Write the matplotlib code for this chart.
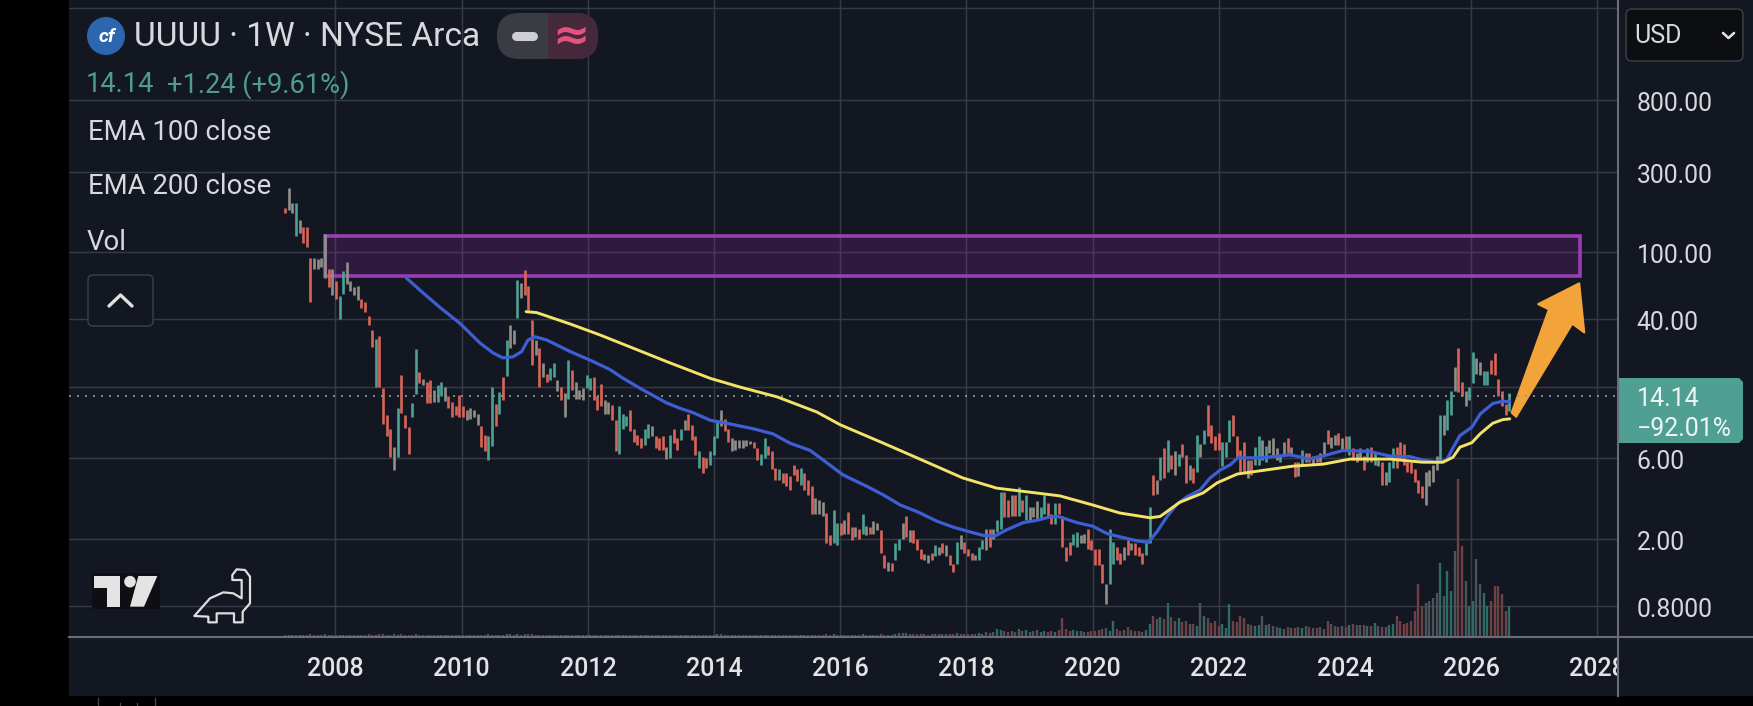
import numpy as np
import matplotlib
matplotlib.use("Agg")
import matplotlib.pyplot as plt
from matplotlib.patches import Rectangle, FancyBboxPatch, Polygon, Circle
from matplotlib.lines import Line2D
from matplotlib.ticker import NullLocator
from matplotlib.transforms import Bbox, TransformedBbox, ScaledTranslation

plt.rcParams['font.family'] = ['Roboto', 'DejaVu Sans']

# ---------- data ----------
first_bar_year = 2007.20
last_bar_year = 2026.60

bar_high = [
 183,240,195,197,155,141,141,92,92,91,
 92,128,80,80,68,55,78,88,68,62,
 63,53,51,42,34.6,30.5,32,15.6,10.8,9,
 7,11.9,18.7,10.8,9.2,12.8,26.8,19.6,17.8,17,
 17.5,15.3,16.4,17,15.9,14,13,12.2,14.3,12.2,
 11.6,11.9,11.6,11,9.4,8.3,8.1,15.9,12.7,14.8,
 18.2,30.2,37,34.6,68.5,66,79,63,39.7,30.2,
 27,22,19,20.5,22,17.5,16,14.6,23,20,
 17,15.3,15.6,18.7,18,18.2,14,16.5,13.3,12.9,
 12.5,10.1,12.2,11,10.7,11.6,9,8.3,7.9,9,
 9.6,9.3,8.1,7.9,8.1,7,8.3,9,7.9,9,
 10.1,11,9.5,8.1,6.6,6.1,6,6.6,8.1,10.1,
 11.7,10.3,9,7.9,7.7,7.7,7.7,7.7,7.6,7.5,
 6.9,6.4,7.9,7.1,6.6,5.3,5.2,4.9,4.9,4.7,
 5.5,5.2,5.3,4.9,4.5,4.1,3.5,3.4,3.3,2.85,
 2.1,2.95,2.5,2.5,2.6,2.9,2.35,2.35,2.3,2.8,
 2.4,2.35,2.55,2.5,2.25,1.6,1.47,1.45,1.9,2,
 2.5,2.75,2.25,2.25,2,1.75,1.62,1.6,1.65,1.85,
 1.8,1.9,1.85,1.6,1.43,1.93,2.1,1.93,1.75,1.65,
 1.6,1.8,1.97,2.3,2.3,2.3,2.6,3.8,3.8,3.4,
 3.65,3.65,4.05,3.4,3.65,3.1,3.1,3.35,3.1,3.65,
 3.25,2.8,3.25,3.25,2.75,1.8,1.93,2.15,2.2,2.1,
 2.15,2.3,1.97,1.75,1.75,1.43,1.08,2.3,1.93,1.8,
 1.65,1.8,1.97,1.9,1.9,1.8,1.65,1.97,3.1,4.8,
 4.47,6.15,6.9,7.7,6.3,6.6,6.4,7.3,6.3,5.5,
 5.3,8.3,7.3,8.85,12.5,9.5,8.2,8.5,7.5,7.5,
 10.1,10.8,8.2,6.7,7.5,5.85,5.87,7,8.1,7.7,
 7.1,7.7,7.9,6.9,6.3,7.5,7.9,7,5.7,5.7,
 6.7,6.5,6.5,6.2,6.3,6.5,7.5,8.9,8,8.3,
 8.5,7.9,8.1,8.2,6.9,6.5,6.9,6.2,6.9,7,
 6.5,5.9,5.7,5,5.7,6.9,7,7.5,7.3,5.7,
 5.7,5.2,4.47,4.1,5,5.1,5.5,6.2,10.8,10.8,
 13.3,15,21,27,17,15,16,25.6,23.6,22.4,
 19.7,19.7,23,25.2,17.8,15,12.6,14.6,
]
bar_low = [
 170,178,172,125,130,113,108,51,80,80,
 82,70,62,56,53,40,57,65,59,56,
 52,47,44,37,27.5,16,16,9.6,8.2,6.1,
 5.1,6.1,11.2,9.1,6.4,10.6,14.5,16.8,16.3,12.8,
 12.8,12.9,13,14.1,13.2,11.9,10.5,10.8,10.5,10.6,
 10.1,10.3,10.5,9.5,7,6.6,5.9,7.1,9.4,11,
 13.3,18.6,27,28.6,40.7,53.5,56,45.5,21.5,24.7,
 16,18.2,17.1,17.5,18.2,15,13.3,10.5,13.6,15.3,
 13.6,13.6,13.3,15.6,15.3,13.3,11.6,12.3,11,11,
 10.1,6.6,6.4,9,9.3,8.7,7.5,7.2,6.9,7.2,
 7.9,8.1,6.9,6.7,6.7,5.95,6,7.4,6.7,7.7,
 8.85,8.85,7.7,6.3,5.3,4.9,5.3,5.5,6.3,7.9,
 9.3,8.7,7.5,6.6,6.7,6.9,6.9,7.1,7.3,6.9,
 5.9,5.5,6,6.3,5.2,4.5,4.5,4.3,4.1,3.9,
 4.8,4.4,4.2,3.9,3.65,2.8,2.8,2.8,2.75,1.9,
 1.85,1.88,1.83,2.1,2.15,2.15,1.97,2.05,2,2.15,
 2.1,2.15,2.15,2.25,1.65,1.35,1.3,1.3,1.5,1.72,
 2,2.05,1.93,1.9,1.72,1.53,1.5,1.45,1.5,1.58,
 1.6,1.65,1.58,1.4,1.28,1.43,1.75,1.65,1.58,1.5,
 1.5,1.5,1.75,1.72,1.8,2,2.2,2.3,2.7,2.7,
 2.75,2.75,2.75,2.9,2.6,2.55,2.7,2.6,2.65,2.8,
 2.65,2.45,2.45,2.8,1.8,1.49,1.6,1.85,1.8,1.9,
 1.9,1.75,1.72,1.4,1.4,1.1,.82,1.08,1.43,1.5,
 1.43,1.5,1.6,1.72,1.6,1.58,1.43,1.6,1.9,3.65,
 3.7,4.47,4.6,5,5.2,4.8,5.4,6.1,4.3,4.47,
 4.3,5,6.1,7.3,8.2,7.4,6.7,6.7,5.4,6.1,
 7.5,8.2,6.1,5,5,4.6,4.8,5.5,5.5,5.9,
 5.7,6.5,6.2,5.9,5.7,6.2,6.5,6.2,4.65,4.75,
 5.4,5.7,5.7,5.6,5.7,5.7,6.2,7.3,6.9,7.2,
 7.2,6.7,6.7,6.3,5.87,5.7,5.87,5.1,5.7,5.7,
 5.5,5.4,4.2,4.2,4.35,5.3,5.3,5.95,5.5,5,
 4.9,4.35,3.75,3.5,3.2,4.1,4.35,5.1,5.7,8.3,
 8.85,10.8,15,14.8,14,12.3,13.3,16.9,19,18.7,
 16.4,16.4,19,18.8,14,12.3,10.8,11.4,
]
bar_dir = (
 "rggtgrrrgg" "ggrgrttggg" "grrrrtrrrr" "gtrrrttrgr" "rgttgrrrrr"
 "ggggrrttrt" "rtggtgrrrg" "rgrttgrgtr" "gggttrrrgg" "rrtttrrrrt"
 "tgrrrgtrrt" "grrrtrrttt" "grrggggggr" "rttrrrtrrr" "rrtrrrgggr"
 "rttrgrrgrt" "grggrrgrtt" "grgrrrggrt" "grgrrtgrrr" "gttgrgttrr"
 "grtrtgggtt" "rrtrrrrttg" "grrrrrgttr" "rgrgrrrttr" "gtrtrgtrrg"
 "rtgtrrrrtt" "trrrrgrttg" "tgggtgrgrg" "tgrgrggrgg" "rgrtrggrtr"
 "tgrgttrrrr" "rrrrggggtg" "ttgrrgttgg" "ttrrrrrt"
)
bar_volume = [
 1,1,1,1,1,1,1,2,1,1, 1,2,1,1,1,1,1,1,1,1, 1,1,1,2,1,1,2,2,1,1,
 2,1,2,1,1,1,2,1,1,1, 1,1,1,1,1,1,1,1,1,1, 1,1,1,1,1,1,2,1,1,1,
 1,2,2,1,2,1,2,2,2,1, 1,1,1,1,1,1,1,1,1,1, 1,1,1,1,1,1,1,1,1,1,
 1,1,1,1,1,1,1,1,1,1, 1,1,1,1,1,1,1,1,1,1, 1,1,1,1,1,1,1,1,1,2,
 2,1,1,1,1,1,1,1,1,1, 1,1,1,1,1,1,1,1,1,1, 1,1,1,1,1,1,1,1,1,2,
 1,2,1,1,1,1,1,1,1,2, 1,1,1,1,2,1,1,1,2,3, 3,3,2,2,2,2,2,1,2,2,
 2,2,2,2,2,3,2,2,2,2, 2,3,2,4,3,4,7,6,5,4, 5,4,7,5,6,4,5,6,4,5,
 4,5,4,6,18,7,5,6,5,5, 4,4,5,5,6,7,8,5,15,7, 5,6,9,6,5,5,4,6,12,20,
 17,19,17,33,19,15,18,14,15,12, 12,10,33,20,18,13,15,10,12,8,
 32,15,14,20,18,12,11,10,11,20, 11,12,10,9,8,7,9,8,8,9,
 8,10,9,8,8,9,7,15,12,10, 9,10,9,11,12,11,11,11,10,10,
 13,10,9,9,11,12,20,15,12,13, 15,25,52,30,33,35,38,43,73,40,
 65,45,85,157,90,55,30,35,77,52, 43,30,35,50,50,42,25,30,
]

ema100_year = [2009.12,2009.39,2009.66,2009.97,2010.29,2010.50,2010.65,2010.81,2010.95,2011.05,
 2011.16,2011.35,2011.72,2012.03,2012.35,2012.56,2012.87,2013.25,2013.46,2013.67,
 2013.94,2014.20,2014.62,2014.93,2015.20,2015.52,2015.73,2016.04,2016.42,2016.68,
 2016.95,2017.22,2017.53,2017.79,2018.06,2018.26,2018.45,2018.64,2018.90,2019.12,
 2019.32,2019.45,2019.75,2020.00,2020.23,2020.43,2020.70,2020.88,2021.02,2021.18,
 2021.33,2021.49,2021.70,2021.86,2022.02,2022.18,2022.30,2022.65,2023.13,2023.44,
 2023.65,2023.97,2024.39,2024.71,2025.03,2025.23,2025.46,2025.61,2025.71,2025.82,
 2026.01,2026.14,2026.34,2026.50,2026.61]
ema100_price = [70.6,57.4,47,38,29,25.3,23.7,24,25.8,30.2,
 31.6,30.2,25.8,23,20.2,17.9,15.3,12.8,11.9,11.2,
 10.1,9.7,9,8.4,7.4,6.7,5.87,4.8,4.1,3.65,
 3.18,2.9,2.55,2.35,2.2,2.1,2.08,2.27,2.5,2.58,
 2.7,2.72,2.5,2.38,2.15,2.06,1.95,1.91,2.21,2.72,
 3.2,3.55,3.9,4.6,5.12,5.5,6.05,6.05,6.3,5.95,
 6.2,6.7,6.6,6.2,6.15,5.87,5.7,5.87,6.95,8.2,
 9.2,11,12.7,13.1,13]

ema200_year = [2011.02,2011.19,2011.72,2012.19,2012.71,2013.25,2013.94,2014.41,2015.00,2015.63,
 2016.00,2016.68,2017.26,2017.94,2018.48,2018.85,2019.48,2020.00,2020.43,2020.91,
 2021.07,2021.38,2021.75,2021.97,2022.29,2023.17,2023.65,2024.08,2024.71,2025.23,
 2025.55,2025.71,2025.82,2026.01,2026.14,2026.34,2026.50,2026.61]
ema200_price = [44.5,43.9,37.6,32.4,27.1,22.5,17.9,15.9,13.9,11.3,
 9.5,7.4,5.95,4.6,4.0,3.85,3.6,3.18,2.85,2.67,
 2.72,3.3,3.75,4.3,4.85,5.4,5.55,5.95,5.95,5.7,
 5.7,6.1,7,7.45,8.4,9.7,10.2,10.3]

zone_years = [2007.834, 2027.72]
zone_prices = [72.4, 125.6]
arrow_years = [2026.64,2027.23,2027.06,2027.71,2027.79,2027.60,2026.71]
arrow_prices = [11.2,45.9,49.3,65.5,33.5,37.8,10.6]

x_years = [2008,2010,2012,2014,2016,2018,2020,2022,2024,2026,2028]
y_grid = [2800,800,300,100,40,16,6,2,0.8]
y_labels = ['','800.00','300.00','100.00','40.00','','6.00','2.00','0.8000']
last_price = 14.14

# ---------- layout ----------
W, H = 1753, 706
BG = '#131722'
GRID = '#363a45'
AXIS = '#6a6d75'
TXT = '#d8d9dc'
fig = plt.figure(figsize=(W/100, H/100), dpi=100, facecolor=BG)

def fx(x): return x/W
def fy(y): return 1-y/H

L, R, B = 69, 1618, 637
ax = fig.add_axes([fx(L), fy(B), fx(R-L), 1-fy(B)])
ax.set_facecolor(BG)
ax.set_yscale('log')
x_of = lambda px: 2008+(px-335.5)/63.1
p_of = lambda py: 10**(2.903-(py-100)/168.7)
ax.set_xlim(x_of(L), x_of(R))
ax.set_ylim(p_of(B), p_of(0))

ax.set_xticks(x_years)
ax.set_xticklabels([str(v) for v in x_years], fontsize=18, fontweight='medium', color='#e2e3e5')
ax.set_yticks(y_grid)
ax.set_yticklabels(y_labels, fontsize=17.8, color=TXT)
ax.yaxis.set_minor_locator(NullLocator())
ax.xaxis.set_minor_locator(NullLocator())
ax.yaxis.tick_right()
ax.tick_params(axis='y', length=0, pad=13.5)
ax.tick_params(axis='x', length=0, pad=14.5)
ax.grid(True, color=GRID, lw=1.05, zorder=0)
ax.set_axisbelow(True)
for s in ax.spines.values():
    s.set_visible(False)
clip = TransformedBbox(Bbox([[fx(L), 0], [fx(R), 1]]), fig.transFigure)
for t in ax.get_xticklabels():
    t.set_clip_box(clip)
    t.set_clip_on(True)
down = ScaledTranslation(0, -1.2/100, fig.dpi_scale_trans)
for t in ax.get_yticklabels():
    t.set_transform(t.get_transform()+down)

# volume pane shares the same rectangle
axv = fig.add_axes(ax.get_position(), facecolor='none', zorder=1)
axv.set_xlim(ax.get_xlim())
axv.set_ylim(-1, B+1)
axv.axis('off')

n = len(bar_high)
years = np.linspace(first_bar_year, last_bar_year, n)
d = np.array(list(bar_dir[:n]))
price_col = {'r': '#d9655a', 't': '#4ca394', 'g': '#928f89'}
vol_col = {'r': '#6e4244', 't': '#2f6b66', 'g': '#4d5457'}
for key in 'gtr':
    m = d == key
    axv.vlines(years[m], 0, np.array(bar_volume)[m], color=vol_col[key], lw=1.7)

# trading zone
ax2 = fig.add_axes(ax.get_position(), facecolor='none', zorder=2, sharex=ax, sharey=ax)
ax2.axis('off')
ax2.add_patch(Rectangle((zone_years[0], zone_prices[0]), zone_years[1]-zone_years[0],
                        zone_prices[1]-zone_prices[0], facecolor='#9c27b0', alpha=0.2, lw=0))
ax2.add_patch(Rectangle((zone_years[0], zone_prices[0]), zone_years[1]-zone_years[0],
                        zone_prices[1]-zone_prices[0], fill=False, edgecolor='#9a3cb4', lw=2.6))
# price bars
for key in 'gtr':
    m = d == key
    ax2.vlines(years[m], np.array(bar_low)[m], np.array(bar_high)[m], color=price_col[key], lw=1.9)
# last price line
ax2.axhline(last_price, color='#8b9a9b', lw=1.2, ls=(0, (1.2, 3.6)))
# EMAs
ax2.plot(ema100_year, ema100_price, color='#3d5fd3', lw=2.3, solid_capstyle='round', solid_joinstyle='round')
ax2.plot(ema200_year, ema200_price, color='#f3e467', lw=2.1, solid_capstyle='round', solid_joinstyle='round')
# arrow
ax2.add_patch(Polygon(np.column_stack([arrow_years, arrow_prices]), closed=True,
                      facecolor='#f2a33a', edgecolor='#f2a33a', lw=1.5, joinstyle='round'))

# ---------- chrome, in figure pixels ----------
def rrect(x0, y0, x1, y1, rad, **kw):
    axp.add_patch(FancyBboxPatch((x0+rad, y0+rad), x1-x0-2*rad, y1-y0-2*rad,
                                 boxstyle=f'round,pad={rad}', **kw))

def line(xs, ys, **kw):
    axp.add_line(Line2D(xs, ys, **kw))

def text(x, y, s, **kw):
    kw.setdefault('va', 'center')
    kw.setdefault('ha', 'left')
    axp.text(x, y, s, **kw)

axp = fig.add_axes([0, 0, 1, 1], facecolor='none', zorder=5)
axp.set_xlim(0, W)
axp.set_ylim(H, 0)
axp.axis('off')

# axis lines and frame
line([L, W], [B, B], color=AXIS, lw=1.5)
line([R, R], [0, 696], color=AXIS, lw=1.5)
axp.add_patch(Rectangle((0, 0), L, H, facecolor='black', lw=0))
axp.add_patch(Rectangle((0, 696), W, 10, facecolor='black', lw=0))
for xa, ya in [(98, 698), (120, 703), (137, 703), (155, 698)]:
    line([xa, xa], [ya, 706], color='#4a4a4a', lw=0.9)

# header
axp.add_patch(Circle((106, 36), 19, facecolor='#2c66ae', lw=0))
text(107, 36.5, 'cf', color='white', fontsize=14, fontweight='bold', style='italic', ha='center')
text(134, 36.5, 'UUUU · 1W · NYSE Arca', color=TXT, fontsize=24.1)
rrect(497, 13, 598, 59, 22, facecolor='#3a3c44', lw=0)
clip_pink = Rectangle((548, 13), 50, 46, transform=axp.transData)
pink = FancyBboxPatch((519, 35), 57, 2, boxstyle='round,pad=22', facecolor='#45283a', lw=0)
axp.add_patch(pink)
pink.set_clip_path(clip_pink)
line([516, 533], [36, 36], color='#cfcfd3', lw=6.5, solid_capstyle='round')
text(571, 36, '≈', color='#e4527f', fontsize=32, ha='center', fontweight='bold', family='DejaVu Sans')
text(86, 85, '14.14', color='#4f9c8f', fontsize=19.6)
text(167, 85, '+1.24 (+9.61%)', color='#4f9c8f', fontsize=19.6)
text(88, 132, 'EMA 100 close', color=TXT, fontsize=19.8)
text(88, 187, 'EMA 200 close', color=TXT, fontsize=19.8)
text(87, 242, 'Vol', color=TXT, fontsize=19.8)
rrect(88, 275, 153, 326, 5, facecolor=BG, edgecolor='#3a3d45', lw=1.1)
line([109, 120.5, 132], [306, 295, 306], color='#e0e0e2', lw=2.4, solid_capstyle='round')

# USD box
rrect(1626, 9, 1743, 61, 6, facecolor='#0d0e11', edgecolor='#3a3d45', lw=1.1)
text(1634, 36, 'USD', color=TXT, fontsize=18)
line([1723, 1728.5, 1734], [33, 38, 33], color='#e0e0e2', lw=1.9, solid_capstyle='round')

# price tag
axp.add_patch(Polygon([(R, 378), (1739, 378), (1743, 382), (1743, 439), (1739, 443), (R, 443)],
                      closed=True, facecolor='#4f9f92', lw=0))
text(1637, 399, '14.14', color='#eef5f3', fontsize=18)
text(1637, 429, '−92.01%', color='#eef5f3', fontsize=18)

# TradingView mark
tvx = lambda v: 60+v/3
tvy = lambda v: 500+v/3
axp.add_patch(Rectangle((tvx(95), tvy(218)), 68, 36, facecolor='#0e0f14', lw=0))
axp.add_patch(Polygon([(tvx(a), tvy(b)) for a, b in
                       [(103,228),(180,228),(180,320),(140,320),(140,265),(103,265)]],
                      closed=True, facecolor='#e3e3e3', lw=0))
axp.add_patch(Circle((tvx(210), tvy(245)), 5.8, facecolor='#e3e3e3', lw=0))
axp.add_patch(Polygon([(tvx(a), tvy(b)) for a, b in
                       [(235,228),(292,228),(252,320),(210,320)]],
                      closed=True, facecolor='#e3e3e3', lw=0))
# dinosaur
dino = [(403,348),(450,295),(490,277),(520,280),(545,295),(545,240),(530,240),(517,240),(517,225),
        (530,208),(555,210),(570,230),(570,310),(548,335),(548,367),(522,367),(522,340),(470,340),
        (470,367),(445,367),(445,350)]
axp.add_patch(Polygon([(tvx(a), tvy(b)) for a, b in dino], closed=True, fill=False,
                      edgecolor='#dedede', lw=1.6, joinstyle='round'))

fig.savefig('out.png', dpi=100, facecolor=BG)
